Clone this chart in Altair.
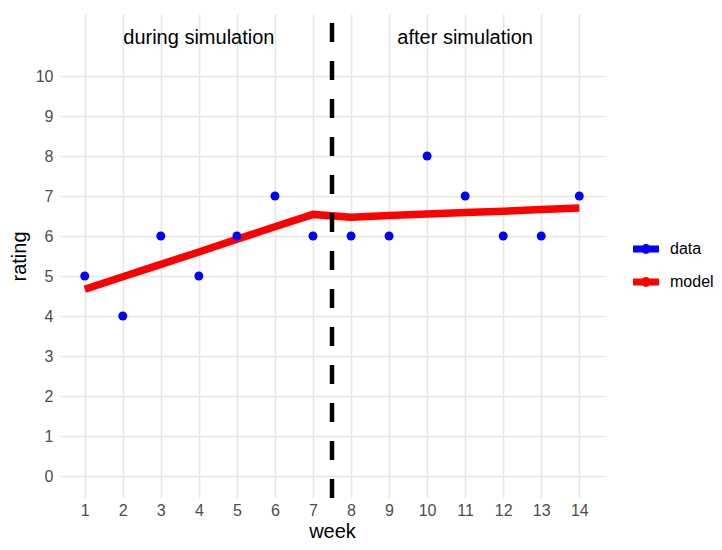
import altair as alt
import pandas as pd

weeks = list(range(1, 15))
ratings = [5, 4, 6, 5, 6, 7, 6, 6, 6, 8, 7, 6, 6, 7]
model = [4.67, 4.98, 5.29, 5.60, 5.92, 6.23, 6.54,
         6.47, 6.51, 6.55, 6.59, 6.62, 6.66, 6.70]
ann_labels = ["during simulation", "after simulation"]
ann_x = [4, 11]
ann_y = [11, 11]
split_week = 7.5

FONT = "Liberation Sans"

pts = pd.DataFrame({"week": weeks, "rating": ratings, "series": "data"})
mod = pd.DataFrame({"week": weeks, "rating": model, "series": "model"})
ann = pd.DataFrame({"label": ann_labels, "week": ann_x, "rating": ann_y})

xscale = alt.Scale(domain=[0.35, 14.65], nice=False, zero=False)
yscale = alt.Scale(domain=[-0.55, 11.55], nice=False, zero=False)

xaxis = alt.Axis(values=weeks, title="week", ticks=False, domain=False,
                 labelPadding=4, titlePadding=3, gridColor="#E6E6E6",
                 gridWidth=1.6)
yaxis = alt.Axis(values=list(range(0, 11)), title="rating", ticks=False,
                 domain=False, labelPadding=7, titlePadding=6,
                 gridColor="#E6E6E6", gridWidth=1.6)

color = alt.Color(
    "series:N",
    scale=alt.Scale(domain=["data", "model"], range=["#0000FF", "#FF0000"]),
    legend=alt.Legend(
        title=None, orient="none", legendX=573, legendY=222,
        symbolType="M-1,-0.27H1V0.27H-1Z M-0.38,0A0.38,0.38 0 1,1 0.38,0A0.38,0.38 0 1,1 -0.38,0Z",
        symbolSize=676, symbolStrokeWidth=0, symbolOpacity=1,
        labelFontSize=16, labelFont=FONT, labelColor="#000000",
        labelOffset=11, rowPadding=12, padding=0,
    ),
)

line = alt.Chart(mod).mark_line(strokeWidth=7.5, strokeCap="butt",
                                color="#FF0000").encode(
    x=alt.X("week:Q", scale=xscale, axis=xaxis),
    y=alt.Y("rating:Q", scale=yscale, axis=yaxis),
)

points = alt.Chart(pts).mark_point(filled=True, size=80, opacity=1).encode(
    x=alt.X("week:Q", scale=xscale),
    y=alt.Y("rating:Q", scale=yscale),
    color=color,
)

vline = alt.Chart(pd.DataFrame({"w": [split_week]})).mark_rule(
    color="black", strokeWidth=4.5, strokeDash=[19, 19]
).encode(
    x=alt.X("w:Q", scale=xscale),
    y=alt.datum(-0.55),
    y2=alt.datum(11.55),
)

text = alt.Chart(ann).mark_text(fontSize=20, font=FONT, color="black",
                                baseline="middle", dy=2).encode(
    x=alt.X("week:Q", scale=xscale),
    y=alt.Y("rating:Q", scale=yscale),
    text="label:N",
)

chart = alt.layer(line, points, vline, text).properties(
    width=544, height=484,
    autosize=alt.AutoSizeParams(type="none"),
    padding={"left": 52, "top": 6, "right": 110, "bottom": 44},
).configure_view(stroke=None).configure_axis(
    labelFont=FONT, labelFontSize=16, labelColor="#4D4D4D",
    titleFont=FONT, titleFontSize=20, titleColor="#000000",
    titleFontWeight="normal",
)

chart.save("out.html", embed_options={"renderer": "svg", "actions": False})
